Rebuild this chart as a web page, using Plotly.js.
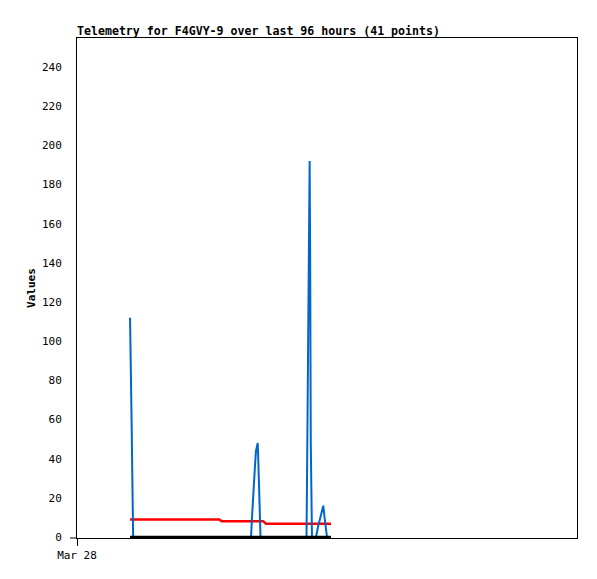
<!DOCTYPE html>
<html>
<head>
<meta charset="utf-8">
<script src="https://cdn.plot.ly/plotly-3.0.1.min.js"></script>
<style>html,body{margin:0;padding:0;background:#fff;}#chart{width:597px;height:579px;}</style>
</head>
<body>
<div id="chart"></div>
<script>
var times = [
  "2024-03-28 10:11","2024-03-28 10:19","2024-03-28 10:30","2024-03-28 10:41","2024-03-28 10:47",
  "2024-03-28 15:54","2024-03-28 21:42","2024-03-29 03:18","2024-03-29 03:48","2024-03-29 07:18",
  "2024-03-29 09:25","2024-03-29 09:36","2024-03-29 09:47","2024-03-29 09:59","2024-03-29 10:10",
  "2024-03-29 10:22","2024-03-29 10:42","2024-03-29 10:48","2024-03-29 10:56","2024-03-29 11:14",
  "2024-03-29 11:43","2024-03-29 12:18","2024-03-29 17:00","2024-03-29 20:04","2024-03-29 20:10",
  "2024-03-29 20:19","2024-03-29 20:27","2024-03-29 20:40","2024-03-29 20:46","2024-03-29 20:53",
  "2024-03-29 21:07","2024-03-29 21:30","2024-03-29 21:53","2024-03-29 22:16","2024-03-29 22:40",
  "2024-03-29 23:02","2024-03-29 23:17","2024-03-29 23:37","2024-03-30 00:00","2024-03-30 00:24",
  "2024-03-30 00:46"
];
var blueValues = [112,94,56,19,0, 0,0,0,0,0, 0,10,20,28,36, 44,48,40,24,0, 0,0,0,0,30, 96,160,192,144,48, 0,0,0,5,10, 14,16,8,0,0, 0];
var redValues = [8.9,8.9,8.9,8.9,8.9, 8.9,8.9,8.9,8.1,8.1, 8.1,8.1,8.1,8.1,8.1, 8.1,8.1,8.1,8.1,8.1, 8.1,6.8,6.8,6.8,6.8, 6.8,6.8,6.8,6.8,6.8, 6.8,6.8,6.8,6.8,6.8, 6.8,6.8,6.8,6.8,6.8, 6.8];
var blackValues = [0,0,0,0,0, 0,0,0,0,0, 0,0,0,0,0, 0,0,0,0,0, 0,0,0,0,0, 0,0,0,0,0, 0,0,0,0,0, 0,0,0,0,0, 0];
var xRange = ["2024-03-28 00:00","2024-04-01 00:00"];
var xTickVals = ["2024-03-28 00:00"];
var xTickText = ["Mar 28"];
var yTickVals = [0,20,40,60,80,100,120,140,160,180,200,220,240];
var titleText = "Telemetry for F4GVY-9 over last 96 hours (41 points)";
var yTitle = "Values";

var mono = "DejaVu Sans Mono, monospace";
var traces = [
  {x: times, y: redValues, type: "scatter", mode: "lines", line: {color: "#ff0000", width: 2.5}, hoverinfo: "skip"},
  {x: times, y: blueValues, type: "scatter", mode: "lines", line: {color: "#0066cc", width: 2}, hoverinfo: "skip"},
  {x: times, y: blackValues, type: "scatter", mode: "lines", line: {color: "#000000", width: 2.5}, hoverinfo: "skip"}
];
var layout = {
  width: 597, height: 579,
  margin: {l: 77, r: 20, t: 38, b: 41, pad: 0},
  paper_bgcolor: "#ffffff", plot_bgcolor: "#ffffff",
  showlegend: false,
  font: {family: mono, size: 11, color: "#000000"},
  title: {text: "<b>" + titleText + "</b>", x: 77/597, xanchor: "left", y: 1 - 31/579, yanchor: "middle",
          font: {family: mono, size: 11.6, color: "#000000"}},
  xaxis: {type: "date", range: xRange, tickmode: "array", tickvals: xTickVals, ticktext: xTickText,
          showgrid: false, zeroline: false, showline: true, mirror: true, linecolor: "#000000", linewidth: 1,
          ticks: "outside", ticklen: 7, tickcolor: "#000000", tickwidth: 1,
          tickfont: {family: mono, size: 11, color: "#000000"}},
  yaxis: {range: [-0.5, 254.8], tickmode: "array", tickvals: yTickVals,
          showgrid: false, zeroline: false, showline: true, mirror: true, linecolor: "#000000", linewidth: 1,
          ticks: "", ticklabelstandoff: 12,
          tickfont: {family: mono, size: 11, color: "#000000"},
          title: {text: "<b>" + yTitle + "</b>", standoff: 4, font: {family: mono, size: 11, color: "#000000"}}},
  shapes: [
    {type: "line", xref: "paper", yref: "paper", x0: -7/500, x1: 0, y0: 0, y1: 0, line: {color: "#000000", width: 1}}
  ]
};
Plotly.newPlot("chart", traces, layout, {displayModeBar: false, staticPlot: true});
</script>
</body>
</html>
